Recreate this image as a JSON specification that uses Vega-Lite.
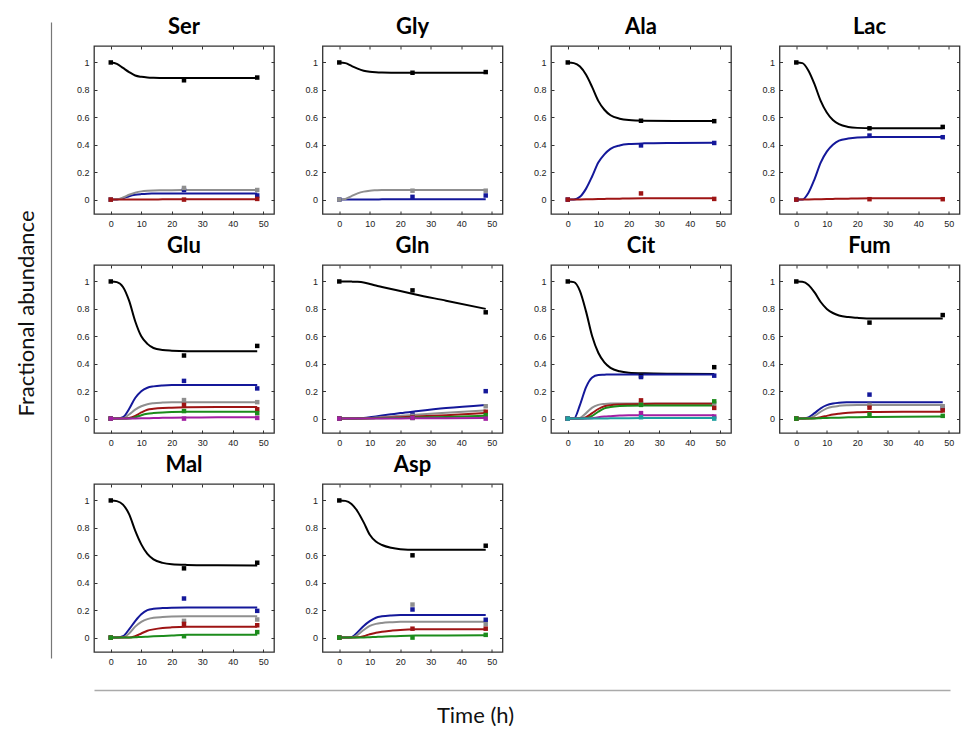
{
  "$schema": "https://vega.github.io/schema/vega-lite/v6.json",
  "background": "white",
  "padding": {"left": 15, "top": 14, "right": 0, "bottom": 0},
  "config": {
    "view": {"stroke": "#333", "strokeWidth": 1.3},
    "axis": {"grid": false, "domain": false, "labelFont": "Liberation Sans", "labelFontSize": 9, "labelColor": "#222", "tickColor": "#333", "tickSize": -3, "tickWidth": 1, "labelPadding": 8}
  },
  "datasets": {
    "d": [
      {"m":"Ser","k":"f","t":0,"M0":1,"M1":0,"M2":0,"M3":0},
      {"m":"Ser","k":"f","t":2,"M0":0.99,"M1":0.001,"M2":0.002,"M3":0},
      {"m":"Ser","k":"f","t":4,"M0":0.96,"M1":0.01,"M2":0.015,"M3":0},
      {"m":"Ser","k":"f","t":6,"M0":0.93,"M1":0.025,"M2":0.035,"M3":0},
      {"m":"Ser","k":"f","t":8,"M0":0.905,"M1":0.035,"M2":0.05,"M3":0},
      {"m":"Ser","k":"f","t":10,"M0":0.895,"M1":0.04,"M2":0.06,"M3":0.001},
      {"m":"Ser","k":"f","t":12,"M0":0.89,"M1":0.043,"M2":0.065,"M3":0.001},
      {"m":"Ser","k":"f","t":14,"M0":0.888,"M1":0.044,"M2":0.067,"M3":0.001},
      {"m":"Ser","k":"f","t":17,"M0":0.887,"M1":0.045,"M2":0.068,"M3":0.002},
      {"m":"Ser","k":"f","t":20,"M0":0.886,"M1":0.045,"M2":0.069,"M3":0.002},
      {"m":"Ser","k":"f","t":25,"M0":0.886,"M1":0.045,"M2":0.07,"M3":0.002},
      {"m":"Ser","k":"f","t":35,"M0":0.886,"M1":0.045,"M2":0.07,"M3":0.003},
      {"m":"Ser","k":"f","t":48,"M0":0.886,"M1":0.045,"M2":0.07,"M3":0.003},
      {"m":"Ser","k":"o","t":0,"M0":1,"M1":0,"M2":0,"M3":0},
      {"m":"Ser","k":"o","t":24,"M0":0.87,"M1":0.07,"M2":0.085,"M3":0},
      {"m":"Ser","k":"o","t":48,"M0":0.89,"M1":0.03,"M2":0.07,"M3":0.005},

      {"m":"Gly","k":"f","t":0,"M0":1,"M1":0,"M2":0},
      {"m":"Gly","k":"f","t":2,"M0":0.995,"M1":0,"M2":0.005},
      {"m":"Gly","k":"f","t":4,"M0":0.975,"M1":0,"M2":0.025},
      {"m":"Gly","k":"f","t":6,"M0":0.955,"M1":0,"M2":0.045},
      {"m":"Gly","k":"f","t":8,"M0":0.94,"M1":0,"M2":0.058},
      {"m":"Gly","k":"f","t":10,"M0":0.932,"M1":0.001,"M2":0.065},
      {"m":"Gly","k":"f","t":12,"M0":0.928,"M1":0.001,"M2":0.068},
      {"m":"Gly","k":"f","t":14,"M0":0.926,"M1":0.002,"M2":0.07},
      {"m":"Gly","k":"f","t":17,"M0":0.925,"M1":0.002,"M2":0.07},
      {"m":"Gly","k":"f","t":20,"M0":0.925,"M1":0.002,"M2":0.07},
      {"m":"Gly","k":"f","t":25,"M0":0.925,"M1":0.002,"M2":0.07},
      {"m":"Gly","k":"f","t":35,"M0":0.925,"M1":0.002,"M2":0.07},
      {"m":"Gly","k":"f","t":48,"M0":0.925,"M1":0.002,"M2":0.07},
      {"m":"Gly","k":"o","t":0,"M0":1,"M1":0,"M2":0},
      {"m":"Gly","k":"o","t":24,"M0":0.925,"M1":0.02,"M2":0.065},
      {"m":"Gly","k":"o","t":48,"M0":0.93,"M1":0.03,"M2":0.065},

      {"m":"Ala","k":"f","t":0,"M0":1,"M1":0,"M3":0},
      {"m":"Ala","k":"f","t":2,"M0":0.995,"M1":0,"M3":0},
      {"m":"Ala","k":"f","t":4,"M0":0.97,"M1":0.02,"M3":0.001},
      {"m":"Ala","k":"f","t":6,"M0":0.91,"M1":0.08,"M3":0.002},
      {"m":"Ala","k":"f","t":8,"M0":0.82,"M1":0.17,"M3":0.003},
      {"m":"Ala","k":"f","t":10,"M0":0.72,"M1":0.27,"M3":0.004},
      {"m":"Ala","k":"f","t":12,"M0":0.655,"M1":0.33,"M3":0.005},
      {"m":"Ala","k":"f","t":14,"M0":0.615,"M1":0.37,"M3":0.006},
      {"m":"Ala","k":"f","t":17,"M0":0.59,"M1":0.395,"M3":0.007},
      {"m":"Ala","k":"f","t":20,"M0":0.58,"M1":0.405,"M3":0.008},
      {"m":"Ala","k":"f","t":25,"M0":0.575,"M1":0.41,"M3":0.009},
      {"m":"Ala","k":"f","t":35,"M0":0.573,"M1":0.413,"M3":0.01},
      {"m":"Ala","k":"f","t":48,"M0":0.573,"M1":0.415,"M3":0.01},
      {"m":"Ala","k":"o","t":0,"M0":1,"M1":0,"M3":0},
      {"m":"Ala","k":"o","t":24,"M0":0.575,"M1":0.395,"M3":0.045},
      {"m":"Ala","k":"o","t":48,"M0":0.572,"M1":0.413,"M3":0.005},

      {"m":"Lac","k":"f","t":0,"M0":1,"M1":0,"M3":0},
      {"m":"Lac","k":"f","t":2,"M0":0.995,"M1":0,"M3":0},
      {"m":"Lac","k":"f","t":4,"M0":0.94,"M1":0.05,"M3":0.001},
      {"m":"Lac","k":"f","t":6,"M0":0.84,"M1":0.15,"M3":0.002},
      {"m":"Lac","k":"f","t":8,"M0":0.72,"M1":0.27,"M3":0.003},
      {"m":"Lac","k":"f","t":10,"M0":0.635,"M1":0.35,"M3":0.004},
      {"m":"Lac","k":"f","t":12,"M0":0.58,"M1":0.4,"M3":0.005},
      {"m":"Lac","k":"f","t":14,"M0":0.55,"M1":0.43,"M3":0.006},
      {"m":"Lac","k":"f","t":17,"M0":0.53,"M1":0.445,"M3":0.007},
      {"m":"Lac","k":"f","t":20,"M0":0.523,"M1":0.453,"M3":0.008},
      {"m":"Lac","k":"f","t":25,"M0":0.52,"M1":0.457,"M3":0.009},
      {"m":"Lac","k":"f","t":35,"M0":0.52,"M1":0.457,"M3":0.01},
      {"m":"Lac","k":"f","t":48,"M0":0.52,"M1":0.457,"M3":0.01},
      {"m":"Lac","k":"o","t":0,"M0":1,"M1":0,"M3":0},
      {"m":"Lac","k":"o","t":24,"M0":0.52,"M1":0.467,"M3":0.003},
      {"m":"Lac","k":"o","t":48,"M0":0.53,"M1":0.455,"M3":0.003},

      {"m":"Glu","k":"f","t":0,"M0":1,"M1":0,"M2":0,"M3":0,"M4":0,"M5":0},
      {"m":"Glu","k":"f","t":2,"M0":0.995,"M1":0,"M2":0,"M3":0,"M4":0,"M5":0},
      {"m":"Glu","k":"f","t":4,"M0":0.96,"M1":0.01,"M2":0.002,"M3":0,"M4":0,"M5":0},
      {"m":"Glu","k":"f","t":6,"M0":0.86,"M1":0.07,"M2":0.03,"M3":0.005,"M4":0,"M5":0},
      {"m":"Glu","k":"f","t":8,"M0":0.71,"M1":0.15,"M2":0.065,"M3":0.02,"M4":0.01,"M5":0.001},
      {"m":"Glu","k":"f","t":10,"M0":0.6,"M1":0.2,"M2":0.09,"M3":0.045,"M4":0.025,"M5":0.002},
      {"m":"Glu","k":"f","t":12,"M0":0.545,"M1":0.225,"M2":0.105,"M3":0.065,"M4":0.035,"M5":0.003},
      {"m":"Glu","k":"f","t":14,"M0":0.515,"M1":0.235,"M2":0.112,"M3":0.072,"M4":0.04,"M5":0.004},
      {"m":"Glu","k":"f","t":17,"M0":0.5,"M1":0.242,"M2":0.117,"M3":0.078,"M4":0.045,"M5":0.006},
      {"m":"Glu","k":"f","t":20,"M0":0.495,"M1":0.245,"M2":0.12,"M3":0.08,"M4":0.048,"M5":0.007},
      {"m":"Glu","k":"f","t":25,"M0":0.492,"M1":0.245,"M2":0.12,"M3":0.083,"M4":0.05,"M5":0.008},
      {"m":"Glu","k":"f","t":35,"M0":0.492,"M1":0.245,"M2":0.12,"M3":0.085,"M4":0.05,"M5":0.009},
      {"m":"Glu","k":"f","t":48,"M0":0.492,"M1":0.245,"M2":0.12,"M3":0.085,"M4":0.05,"M5":0.01},
      {"m":"Glu","k":"o","t":0,"M0":1,"M1":0,"M2":0,"M3":0,"M4":0,"M5":0},
      {"m":"Glu","k":"o","t":24,"M0":0.46,"M1":0.275,"M2":0.135,"M3":0.1,"M4":0.055,"M5":0},
      {"m":"Glu","k":"o","t":48,"M0":0.53,"M1":0.22,"M2":0.12,"M3":0.068,"M4":0.04,"M5":0.005},

      {"m":"Gln","k":"f","t":0,"M0":1,"M1":0,"M2":0,"M3":0,"M4":0,"M5":0},
      {"m":"Gln","k":"f","t":2,"M0":1,"M1":0,"M2":0,"M3":0,"M4":0,"M5":0},
      {"m":"Gln","k":"f","t":4,"M0":0.999,"M1":0,"M2":0,"M3":0,"M4":0,"M5":0},
      {"m":"Gln","k":"f","t":6,"M0":0.997,"M1":0.002,"M2":0.001,"M3":0,"M4":0,"M5":0},
      {"m":"Gln","k":"f","t":8,"M0":0.992,"M1":0.005,"M2":0.003,"M3":0.001,"M4":0,"M5":0},
      {"m":"Gln","k":"f","t":10,"M0":0.982,"M1":0.01,"M2":0.005,"M3":0.002,"M4":0.001,"M5":0},
      {"m":"Gln","k":"f","t":12,"M0":0.97,"M1":0.016,"M2":0.008,"M3":0.004,"M4":0.002,"M5":0},
      {"m":"Gln","k":"f","t":14,"M0":0.96,"M1":0.022,"M2":0.011,"M3":0.006,"M4":0.003,"M5":0.001},
      {"m":"Gln","k":"f","t":17,"M0":0.945,"M1":0.031,"M2":0.016,"M3":0.008,"M4":0.004,"M5":0.001},
      {"m":"Gln","k":"f","t":20,"M0":0.93,"M1":0.04,"M2":0.02,"M3":0.01,"M4":0.005,"M5":0.001},
      {"m":"Gln","k":"f","t":25,"M0":0.905,"M1":0.053,"M2":0.028,"M3":0.015,"M4":0.008,"M5":0.002},
      {"m":"Gln","k":"f","t":35,"M0":0.86,"M1":0.077,"M2":0.042,"M3":0.025,"M4":0.012,"M5":0.003},
      {"m":"Gln","k":"f","t":48,"M0":0.8,"M1":0.1,"M2":0.06,"M3":0.04,"M4":0.02,"M5":0.005},
      {"m":"Gln","k":"o","t":0,"M0":1,"M1":0,"M2":0,"M3":0,"M4":0,"M5":0},
      {"m":"Gln","k":"o","t":24,"M0":0.935,"M1":0.03,"M2":0.02,"M3":0.01,"M4":0.005,"M5":0.005},
      {"m":"Gln","k":"o","t":48,"M0":0.775,"M1":0.2,"M2":0.09,"M3":0.05,"M4":0.025,"M5":0},

      {"m":"Cit","k":"f","t":0,"M0":1,"M1":0,"M2":0,"M3":0,"M4":0,"M5":0,"M6":0},
      {"m":"Cit","k":"f","t":2,"M0":0.995,"M1":0,"M2":0,"M3":0,"M4":0,"M5":0,"M6":0},
      {"m":"Cit","k":"f","t":4,"M0":0.93,"M1":0.1,"M2":0.005,"M3":0,"M4":0,"M5":0,"M6":0},
      {"m":"Cit","k":"f","t":6,"M0":0.78,"M1":0.23,"M2":0.04,"M3":0.01,"M4":0.002,"M5":0,"M6":0},
      {"m":"Cit","k":"f","t":8,"M0":0.6,"M1":0.3,"M2":0.08,"M3":0.04,"M4":0.02,"M5":0.003,"M6":0},
      {"m":"Cit","k":"f","t":10,"M0":0.48,"M1":0.318,"M2":0.1,"M3":0.07,"M4":0.05,"M5":0.01,"M6":0.001},
      {"m":"Cit","k":"f","t":12,"M0":0.41,"M1":0.32,"M2":0.107,"M3":0.09,"M4":0.075,"M5":0.015,"M6":0.001},
      {"m":"Cit","k":"f","t":14,"M0":0.37,"M1":0.322,"M2":0.11,"M3":0.098,"M4":0.085,"M5":0.018,"M6":0.002},
      {"m":"Cit","k":"f","t":17,"M0":0.345,"M1":0.322,"M2":0.11,"M3":0.103,"M4":0.092,"M5":0.022,"M6":0.002},
      {"m":"Cit","k":"f","t":20,"M0":0.335,"M1":0.322,"M2":0.11,"M3":0.105,"M4":0.094,"M5":0.025,"M6":0.003},
      {"m":"Cit","k":"f","t":25,"M0":0.33,"M1":0.322,"M2":0.11,"M3":0.107,"M4":0.095,"M5":0.025,"M6":0.004},
      {"m":"Cit","k":"f","t":35,"M0":0.327,"M1":0.322,"M2":0.11,"M3":0.108,"M4":0.095,"M5":0.025,"M6":0.005},
      {"m":"Cit","k":"f","t":48,"M0":0.325,"M1":0.322,"M2":0.11,"M3":0.108,"M4":0.095,"M5":0.025,"M6":0.005},
      {"m":"Cit","k":"o","t":0,"M0":1,"M1":0,"M2":0,"M3":0,"M4":0,"M5":0,"M6":0},
      {"m":"Cit","k":"o","t":24,"M0":0.31,"M1":0.303,"M2":0.11,"M3":0.133,"M4":0.1,"M5":0.04,"M6":0.01},
      {"m":"Cit","k":"o","t":48,"M0":0.375,"M1":0.313,"M2":0.11,"M3":0.078,"M4":0.126,"M5":0.015,"M6":0},

      {"m":"Fum","k":"f","t":0,"M0":1,"M1":0,"M2":0,"M3":0,"M4":0},
      {"m":"Fum","k":"f","t":2,"M0":0.998,"M1":0,"M2":0,"M3":0,"M4":0},
      {"m":"Fum","k":"f","t":4,"M0":0.975,"M1":0.008,"M2":0.002,"M3":0,"M4":0},
      {"m":"Fum","k":"f","t":6,"M0":0.92,"M1":0.04,"M2":0.02,"M3":0.002,"M4":0.001},
      {"m":"Fum","k":"f","t":8,"M0":0.85,"M1":0.075,"M2":0.05,"M3":0.01,"M4":0.003},
      {"m":"Fum","k":"f","t":10,"M0":0.8,"M1":0.098,"M2":0.075,"M3":0.02,"M4":0.005},
      {"m":"Fum","k":"f","t":12,"M0":0.77,"M1":0.11,"M2":0.087,"M3":0.03,"M4":0.006},
      {"m":"Fum","k":"f","t":14,"M0":0.752,"M1":0.116,"M2":0.093,"M3":0.036,"M4":0.007},
      {"m":"Fum","k":"f","t":17,"M0":0.74,"M1":0.119,"M2":0.097,"M3":0.042,"M4":0.009},
      {"m":"Fum","k":"f","t":20,"M0":0.735,"M1":0.12,"M2":0.099,"M3":0.046,"M4":0.01},
      {"m":"Fum","k":"f","t":25,"M0":0.73,"M1":0.12,"M2":0.1,"M3":0.048,"M4":0.012},
      {"m":"Fum","k":"f","t":35,"M0":0.73,"M1":0.12,"M2":0.1,"M3":0.05,"M4":0.014},
      {"m":"Fum","k":"f","t":48,"M0":0.73,"M1":0.12,"M2":0.1,"M3":0.05,"M4":0.015},
      {"m":"Fum","k":"o","t":0,"M0":1,"M1":0,"M2":0,"M3":0,"M4":0},
      {"m":"Fum","k":"o","t":24,"M0":0.7,"M1":0.175,"M2":0.1,"M3":0.08,"M4":0.03},
      {"m":"Fum","k":"o","t":48,"M0":0.755,"M1":0.076,"M2":0.09,"M3":0.06,"M4":0.02},

      {"m":"Mal","k":"f","t":0,"M0":1,"M1":0,"M2":0,"M3":0,"M4":0},
      {"m":"Mal","k":"f","t":2,"M0":0.995,"M1":0,"M2":0,"M3":0,"M4":0},
      {"m":"Mal","k":"f","t":4,"M0":0.97,"M1":0.01,"M2":0.002,"M3":0,"M4":0},
      {"m":"Mal","k":"f","t":6,"M0":0.9,"M1":0.06,"M2":0.03,"M3":0,"M4":0.001},
      {"m":"Mal","k":"f","t":8,"M0":0.78,"M1":0.12,"M2":0.08,"M3":0.01,"M4":0.002},
      {"m":"Mal","k":"f","t":10,"M0":0.68,"M1":0.17,"M2":0.115,"M3":0.03,"M4":0.005},
      {"m":"Mal","k":"f","t":12,"M0":0.61,"M1":0.2,"M2":0.135,"M3":0.05,"M4":0.007},
      {"m":"Mal","k":"f","t":14,"M0":0.57,"M1":0.21,"M2":0.145,"M3":0.06,"M4":0.009},
      {"m":"Mal","k":"f","t":17,"M0":0.545,"M1":0.215,"M2":0.15,"M3":0.07,"M4":0.012},
      {"m":"Mal","k":"f","t":20,"M0":0.535,"M1":0.218,"M2":0.153,"M3":0.075,"M4":0.015},
      {"m":"Mal","k":"f","t":25,"M0":0.53,"M1":0.22,"M2":0.155,"M3":0.079,"M4":0.02},
      {"m":"Mal","k":"f","t":35,"M0":0.527,"M1":0.22,"M2":0.155,"M3":0.08,"M4":0.02},
      {"m":"Mal","k":"f","t":48,"M0":0.525,"M1":0.22,"M2":0.155,"M3":0.08,"M4":0.02},
      {"m":"Mal","k":"o","t":0,"M0":1,"M1":0,"M2":0,"M3":0,"M4":0},
      {"m":"Mal","k":"o","t":24,"M0":0.505,"M1":0.285,"M2":0.122,"M3":0.1,"M4":0.01},
      {"m":"Mal","k":"o","t":48,"M0":0.546,"M1":0.195,"M2":0.132,"M3":0.09,"M4":0.04},

      {"m":"Asp","k":"f","t":0,"M0":1,"M1":0,"M2":0,"M3":0,"M4":0},
      {"m":"Asp","k":"f","t":2,"M0":0.997,"M1":0,"M2":0,"M3":0,"M4":0},
      {"m":"Asp","k":"f","t":4,"M0":0.975,"M1":0.003,"M2":0,"M3":0,"M4":0},
      {"m":"Asp","k":"f","t":6,"M0":0.92,"M1":0.04,"M2":0.02,"M3":0.002,"M4":0},
      {"m":"Asp","k":"f","t":8,"M0":0.84,"M1":0.085,"M2":0.055,"M3":0.01,"M4":0.001},
      {"m":"Asp","k":"f","t":10,"M0":0.75,"M1":0.12,"M2":0.085,"M3":0.025,"M4":0.003},
      {"m":"Asp","k":"f","t":12,"M0":0.7,"M1":0.145,"M2":0.1,"M3":0.035,"M4":0.005},
      {"m":"Asp","k":"f","t":14,"M0":0.675,"M1":0.155,"M2":0.107,"M3":0.043,"M4":0.007},
      {"m":"Asp","k":"f","t":17,"M0":0.655,"M1":0.162,"M2":0.112,"M3":0.05,"M4":0.009},
      {"m":"Asp","k":"f","t":20,"M0":0.645,"M1":0.165,"M2":0.115,"M3":0.056,"M4":0.012},
      {"m":"Asp","k":"f","t":25,"M0":0.64,"M1":0.165,"M2":0.115,"M3":0.06,"M4":0.015},
      {"m":"Asp","k":"f","t":35,"M0":0.64,"M1":0.165,"M2":0.115,"M3":0.06,"M4":0.016},
      {"m":"Asp","k":"f","t":48,"M0":0.64,"M1":0.165,"M2":0.115,"M3":0.06,"M4":0.018},
      {"m":"Asp","k":"o","t":0,"M0":1,"M1":0,"M2":0,"M3":0,"M4":0},
      {"m":"Asp","k":"o","t":24,"M0":0.6,"M1":0.205,"M2":0.241,"M3":0.065,"M4":0},
      {"m":"Asp","k":"o","t":48,"M0":0.67,"M1":0.13,"M2":0.098,"M3":0.065,"M4":0.02}
    ]
  },
  "hconcat": [
    {
      "data": {"values": [{"a": 0.5}]},
      "width": 1,
      "height": 636,
      "view": {"stroke": null},
      "mark": {"type": "point", "size": 0, "opacity": 0},
      "encoding": {
        "y": {"field": "a", "type": "quantitative", "scale": {"domain": [0, 1]},
          "axis": {"title": "Fractional abundance", "position": -24, "domain": true, "domainColor": "#777", "domainWidth": 1.2, "ticks": false, "labels": false, "titleFont": "Lato", "titleFontSize": 22, "titleFontWeight": "normal", "titleColor": "#111", "titlePadding": 13, "titleY": 291}},
        "x": {"field": "a", "type": "quantitative", "scale": {"domain": [0, 1]},
          "axis": null}
      }
    },
    {
      "vconcat": [
        {
          "data": {"name": "d"},
          "transform": [
            {"fold": ["M0", "M1", "M2", "M3", "M4", "M5", "M6"], "as": ["s", "v"]},
            {"filter": "isValid(datum.v)"}
          ],
          "facet": {
            "field": "m", "type": "nominal",
            "sort": ["Ser", "Gly", "Ala", "Lac", "Glu", "Gln", "Cit", "Fum", "Mal", "Asp"],
            "header": {"title": null, "labelFont": "Lato", "labelFontSize": 22, "labelFontWeight": "bold", "labelColor": "#000", "labelPadding": -10, "labelBaseline": "alphabetic"}
          },
          "columns": 4,
          "spacing": {"row": 4, "column": 21.5},
          "resolve": {"axis": {"x": "independent", "y": "independent"}},
          "spec": {
            "width": 180,
            "height": 168,
            "layer": [
              {
                "transform": [{"filter": "datum.k == 'f'"}],
                "mark": {"type": "line", "interpolate": "monotone", "strokeWidth": 2},
                "encoding": {
                  "x": {"field": "t", "type": "quantitative", "scale": {"domain": [-5.5, 53.5], "nice": false, "zero": false}, "axis": {"values": [0, 10, 20, 30, 40, 50], "title": null}},
                  "y": {"field": "v", "type": "quantitative", "scale": {"domain": [-0.105, 1.12], "nice": false, "zero": false}, "axis": {"values": [0, 0.2, 0.4, 0.6, 0.8, 1], "format": "~g", "title": null, "minExtent": 24, "maxExtent": 24}},
                  "color": {"field": "s", "type": "nominal", "scale": {"domain": ["M0", "M1", "M2", "M3", "M4", "M5", "M6"], "range": ["#000000", "#14189a", "#8f8f8f", "#9e1414", "#1c8c1c", "#a21fa2", "#1fa0a0"]}, "legend": null}
                }
              },
              {
                "transform": [{"filter": "datum.k == 'o'"}],
                "mark": {"type": "square", "size": 20, "opacity": 1},
                "encoding": {
                  "x": {"field": "t", "type": "quantitative", "axis": null},
                  "y": {"field": "v", "type": "quantitative", "axis": null},
                  "color": {"field": "s", "type": "nominal", "legend": null}
                }
              },
              {
                "transform": [{"filter": "datum.k == 'o'"}],
                "mark": {"type": "point", "size": 0, "opacity": 0},
                "encoding": {
                  "x": {"field": "t", "type": "quantitative", "axis": {"orient": "top", "values": [0, 10, 20, 30, 40, 50], "labels": false, "title": null, "minExtent": 0, "maxExtent": 0}},
                  "y": {"field": "v", "type": "quantitative", "axis": {"orient": "right", "values": [0, 0.2, 0.4, 0.6, 0.8, 1], "labels": false, "title": null, "minExtent": 0, "maxExtent": 0}}
                }
              }
            ],
            "resolve": {"axis": {"x": "independent", "y": "independent"}}
          }
        },
        {
          "data": {"values": [{"a": 0.5}]},
          "width": 856,
          "height": 1,
          "view": {"stroke": null},
          "mark": {"type": "point", "size": 0, "opacity": 0},
          "encoding": {
            "x": {"field": "a", "type": "quantitative", "scale": {"domain": [0, 1]},
              "axis": {"title": "Time (h)", "domain": true, "domainColor": "#aaa", "domainWidth": 1.5, "ticks": false, "labels": false, "titleFont": "Lato", "titleFontSize": 22, "titleFontWeight": "normal", "titleColor": "#111", "titlePadding": 15, "titleX": 381}},
            "y": {"field": "a", "type": "quantitative", "scale": {"domain": [0, 1]},
              "axis": {"orient": "left", "title": null, "domain": false, "ticks": false, "labels": false, "minExtent": 24, "maxExtent": 24}}
          }
        }
      ],
      "spacing": 22
    }
  ],
  "spacing": 17
}
